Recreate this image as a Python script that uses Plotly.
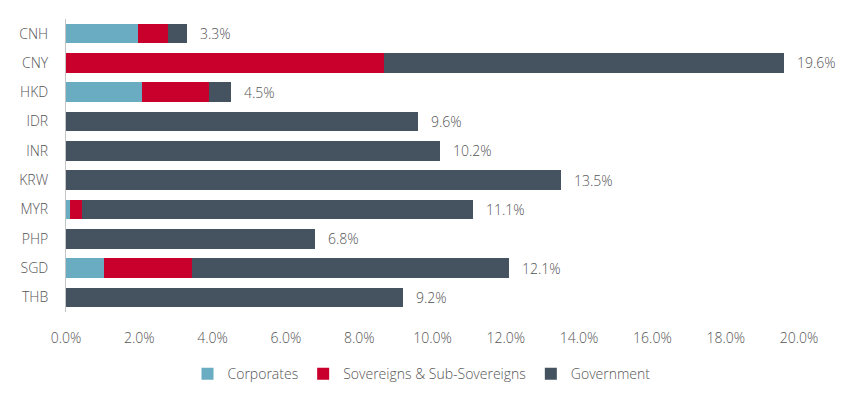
import plotly.graph_objects as go

categories = ["CNH", "CNY", "HKD", "IDR", "INR", "KRW", "MYR", "PHP", "SGD", "THB"]
corporates = [1.96, 0.0, 2.08, 0.0, 0.0, 0.0, 0.11, 0.0, 1.04, 0.0]
sovereigns = [0.81, 8.69, 1.81, 0.0, 0.0, 0.0, 0.33, 0.0, 2.41, 0.0]
totals = [3.3, 19.6, 4.5, 9.6, 10.2, 13.5, 11.1, 6.8, 12.1, 9.2]
government = [round(t - c - s, 2) for t, c, s in zip(totals, corporates, sovereigns)]
x_ticks = [0, 2, 4, 6, 8, 10, 12, 14, 16, 18, 20]

FONT = "Open Sans"
TXT = "#555555"
W = 300

fig = go.Figure()
for name, vals, col in [
    ("Corporates", corporates, "#6aadc3"),
    ("Sovereigns & Sub-Sovereigns", sovereigns, "#c8002b"),
    ("Government", government, "#44535f"),
]:
    fig.add_trace(go.Bar(
        y=categories, x=vals, name=name, orientation="h",
        marker=dict(color=col, line=dict(width=0)),
        hoverinfo="x+name",
    ))

for cat, tot in zip(categories, totals):
    fig.add_annotation(
        x=tot, y=cat, xref="x", yref="y", text=f"{tot:.1f}%",
        showarrow=False, xanchor="left", xshift=11,
        font=dict(family=FONT, size=14, color=TXT, weight=W),
    )

fig.update_layout(
    width=855, height=394,
    margin=dict(l=58, r=64, t=11, b=90),
    barmode="stack", bargap=0.33,
    plot_bgcolor="white", paper_bgcolor="white",
    font=dict(family=FONT, size=14, color=TXT, weight=W),
    legend=dict(
        orientation="h", x=0.485, xanchor="center", y=-0.212, yanchor="middle",
        font=dict(family=FONT, size=14, color=TXT, weight=W),
        itemwidth=30, traceorder="normal",
    ),
    xaxis=dict(
        range=[0, 20], tickvals=x_ticks,
        ticktext=[f"{v:.1f}%" for v in x_ticks],
        showgrid=False, zeroline=False, showline=False,
        ticks="", ticklabelstandoff=16,
        tickfont=dict(family=FONT, size=14, color=TXT, weight=W),
        fixedrange=True,
    ),
    yaxis=dict(
        categoryorder="array", categoryarray=categories, autorange="reversed",
        showgrid=False, zeroline=False, showline=True,
        linecolor="#c4c4c4", linewidth=1,
        ticks="", ticklabelstandoff=14,
        tickfont=dict(family=FONT, size=14, color=TXT, weight=W),
        fixedrange=True,
    ),
)

fig.write_html("out.html")
